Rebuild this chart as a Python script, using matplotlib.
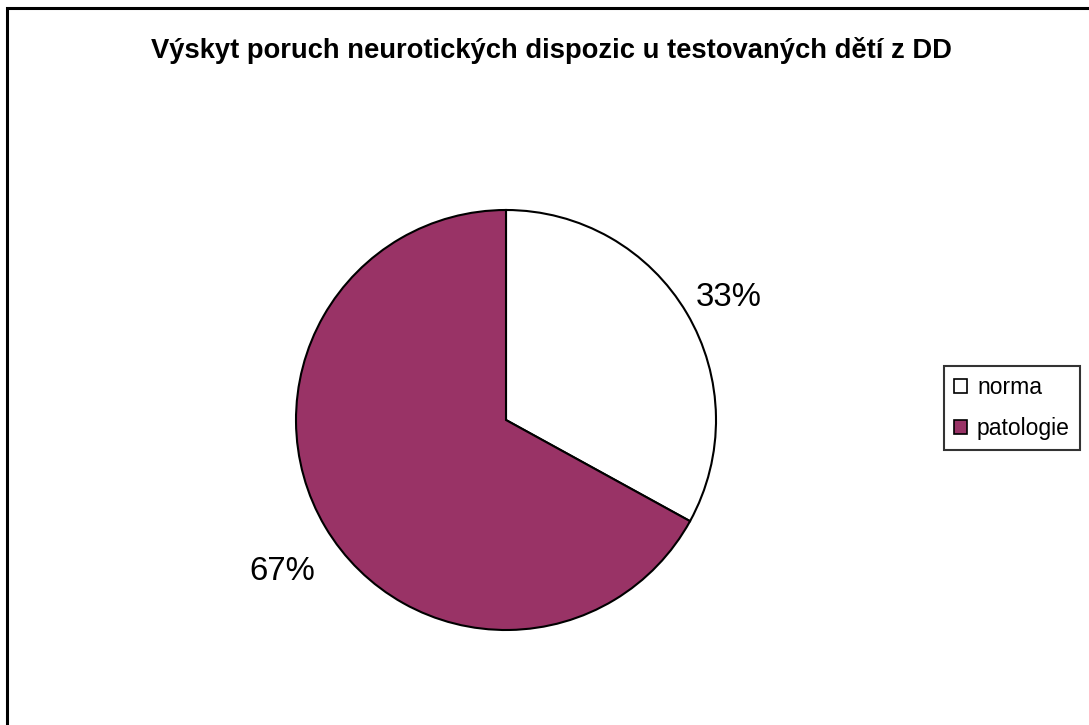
import matplotlib
matplotlib.use('Agg')
import matplotlib.pyplot as plt
from matplotlib.patches import Rectangle, Patch

plt.rcParams['font.family'] = ['Liberation Sans', 'DejaVu Sans']

title = 'Výskyt poruch neurotických dispozic u testovaných dětí z DD'
labels = ['norma', 'patologie']
values = [33, 67]
colors = ['#ffffff', '#993366']

W, H = 1089, 725
fig = plt.figure(figsize=(W / 100, H / 100), dpi=100)

# outer chart frame (clipped at right and bottom like the source)
fig.patches.append(Rectangle((7 / W, -0.1), 1.2, 1 - 8 / H + 0.1,
                             transform=fig.transFigure, fill=False,
                             edgecolor='black', linewidth=2.2))

# pie centre ~ (506, 420) px, radius ~ 210 px
cx, cy, r = 506, 420, 210
ax = fig.add_axes([(cx - r) / W, (H - cy - r) / H, 2 * r / W, 2 * r / H])
wedges, _ = ax.pie(values, colors=colors, startangle=90, counterclock=False,
                   wedgeprops=dict(edgecolor='black', linewidth=1.5))
ax.set_aspect('equal')
ax.set_xlim(-1, 1)
ax.set_ylim(-1, 1)

# percentage labels
pct = ['{}%'.format(v) for v in values]
ax.text((729 - cx) / r, (cy - 298) / r, pct[0], fontsize=23.7, ha='center', va='center')
ax.text((282 - cx) / r, (cy - 572) / r, pct[1], fontsize=23.7, ha='center', va='center')

fig.text(551 / W, 1 - 50 / H, title, fontsize=19.7, fontweight='bold',
         ha='center', va='center')

handles = [Patch(facecolor=c, edgecolor='black', linewidth=1.2) for c in colors]
leg = fig.legend(handles, labels, loc='center', bbox_to_anchor=(1012 / W, 1 - 408 / H),
                 fontsize=16.5, frameon=True, fancybox=False, edgecolor='black',
                 handlelength=0.55, handleheight=0.55, handletextpad=0.45,
                 labelspacing=0.8, borderpad=0.45, borderaxespad=0)
leg.get_frame().set_linewidth(1.5)

plt.savefig('out.png', dpi=100)
